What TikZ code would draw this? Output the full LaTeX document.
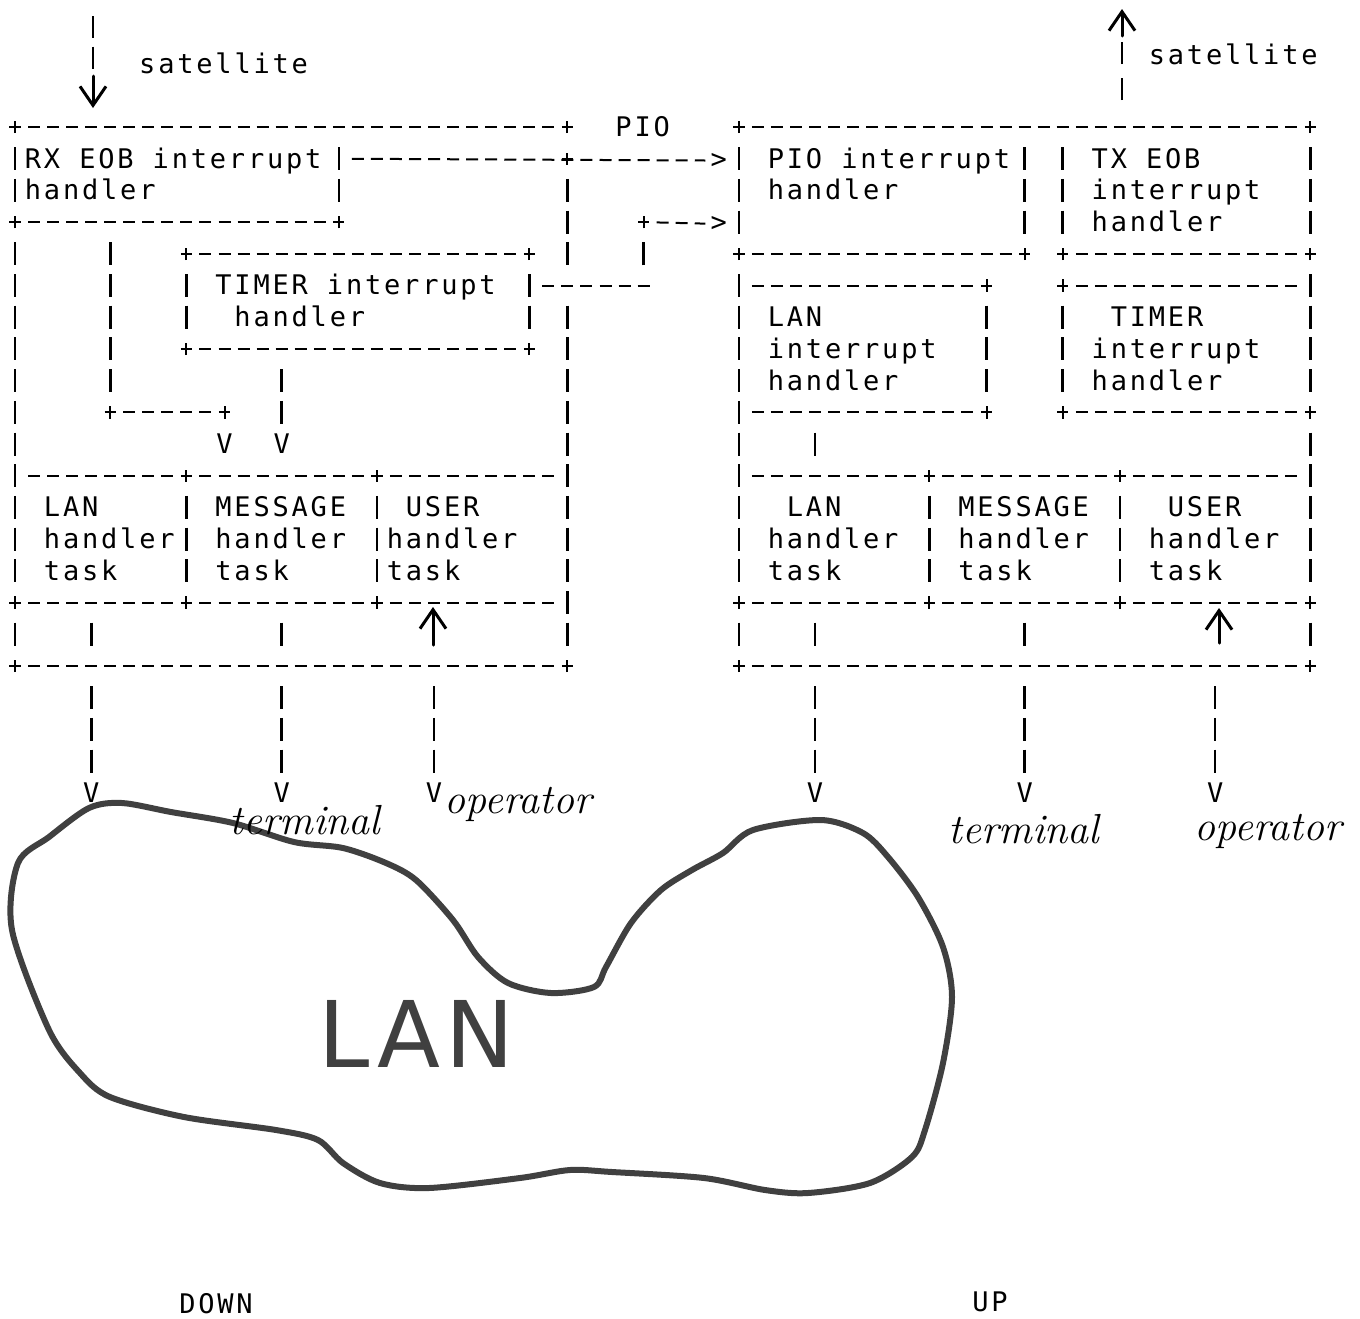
\documentclass[tikz,border=0pt]{standalone}
\usepackage{fontspec}
\newfontfamily\prt{DejaVu Sans Mono}[LetterSpace=10.4]
\newfontfamily\lanfont{DejaVu Sans}[LetterSpace=6]
\usetikzlibrary{arrows.meta,positioning,calc}

\tikzset{pls/.pic={\draw[line width=1pt] (-2.8pt,0) -- (2.8pt,0) (0,-3.1pt) -- (0,3.1pt);}}

\begin{document}
\begin{tikzpicture}[x=9.525pt,y=-15.85pt,
  every node/.style={inner sep=0pt},
  tx/.style={font=\prt\fontsize{13.5}{15.85}\selectfont,anchor=base west,xshift=-4.76pt,yshift=-4.7pt},
  vv/.style={font=\prt\fontsize{13.5}{15.85}\selectfont,anchor=base,yshift=-4.7pt},
  lbl/.style={font=\prt\fontsize{13.5}{15.85}\selectfont,anchor=base},
  hl/.style={line width=1pt,dash pattern=on 6pt off 3.525pt,shorten <=6.5pt,shorten >=6.5pt},
  vl/.style={line width=1.3pt,dash pattern=on 11.5pt off 4.35pt,shorten <=10.1pt,shorten >=10.1pt},
  tonode/.style={shorten >=2.5pt},
  hand/.style={line width=1.5pt,line cap=round,-{Straight Barb[length=9.5pt,width=13pt,line width=1.5pt]}},
  scrib/.style={font=\rmfamily\itshape\fontsize{21}{24}\selectfont,anchor=base},
  blob/.style={line width=3pt,draw=black!75,line join=round}]

% page frame in scan pixels
\begin{scope}[x=0.5pt,y=-0.5pt,shift={(-15,-127)}]
 \useasboundingbox (0,0) rectangle (1360,1318);
\end{scope}

% printed texts, (column,row) of the first letter
\foreach \n/\cc/\rr/\t in {tPio/32/0/PIO, tSatL/7/-2/satellite,
  tRx1/1/1/RX EOB interrupt, tRx2/1/2/handler,
  tTm1/11/5/TIMER interrupt, tTm2/12/6/handler,
  tLan1/2/12/LAN, tLan2/2/13/handler, tLan3/2/14/task,
  tMsg1/11/12/MESSAGE, tMsg2/11/13/handler, tMsg3/11/14/task,
  tUsr1/21/12/USER, tUsr2/20/13/handler, tUsr3/20/14/task,
  tSatR/60/-2.27/satellite,
  tPi1/40/1/PIO interrupt, tPi2/40/2/handler,
  tTx1/57/1/TX EOB, tTx2/57/2/interrupt, tTx3/57/3/handler,
  tLi1/40/6/LAN, tLi2/40/7/interrupt, tLi3/40/8/handler,
  tTi1/58/6/TIMER, tTi2/57/7/interrupt, tTi3/57/8/handler,
  tLn1/41/12/LAN, tLn2/40/13/handler, tLn3/40/14/task,
  tMs1/50/12/MESSAGE, tMs2/50/13/handler, tMs3/50/14/task,
  tUs1/61/12/USER, tUs2/60/13/handler, tUs3/60/14/task}
  \node[tx] (\n) at (\cc,\rr) {\t};
\node[tx] (gtA) at (37,1) {>};
\node[tx] (gtB) at (37,3) {>};
\foreach \n/\cc/\rr in {vLan/11/10, vMsg/14/10, vLa/4/21, vLb/14/21, vLc/22/21,
  vRa/42/21, vRb/53/21, vRc/63/21}
  \node[vv] (\n) at (\cc,\rr) {V};

% box frames
\foreach \xa/\ya/\xb/\yb in {0/0/29/0, 0/3/17/3, 9/4/27/4, 9/7/27/7,
  0/11/9/11, 9/11/19/11, 19/11/29/11, 0/15/9/15, 9/15/19/15, 19/15/29/15, 0/17/29/17,
  38/0/68/0, 38/4/53/4, 55/4/68/4, 38/5/51/5, 55/5/68/5, 38/9/51/9, 55/9/68/9,
  38/11/48/11, 48/11/58/11, 58/11/68/11, 38/15/48/15, 48/15/58/15, 58/15/68/15, 38/17/68/17}
  \draw[hl] (\xa,\ya) -- (\xb,\yb);
\foreach \xa/\ya/\xb/\yb in {0/0/0/3, 0/3/0/15, 0/15/0/17, 17/0/17/3, 29/1/29/5, 29/5/29/17,
  9/4/9/7, 27/4/27/7, 9/11/9/15, 19/11/19/15,
  38/0/38/4, 38/4/38/15, 38/15/38/17, 53/0/53/4, 55/0/55/4, 51/5/51/9, 55/5/55/9,
  68/0/68/4, 68/4/68/9, 68/9/68/15, 68/15/68/17, 48/11/48/15, 58/11/58/15}
  \draw[vl] (\xa,\ya) -- (\xb,\yb);
\foreach \xa/\ya in {0/0, 29/0, 29/1, 0/3, 17/3, 33/3, 9/4, 27/4, 9/7, 27/7, 5/9, 11/9,
  9/11, 19/11, 0/15, 9/15, 19/15, 0/17, 29/17,
  38/0, 68/0, 38/4, 53/4, 55/4, 68/4, 51/5, 55/5, 51/9, 55/9, 68/9,
  48/11, 58/11, 38/15, 48/15, 58/15, 68/15, 38/17, 68/17}
  \pic at (\xa,\ya) {pls};

% connectors
\coordinate (rxOut) at (17,1);
\coordinate (tmOut) at (27,5);
\coordinate (tmBend) at (33,5);
\coordinate (tmUp) at (33,3);
\coordinate (rxDown) at (5,3);
\coordinate (lanBend) at (5,9);
\coordinate (lanIn) at (11,9);
\coordinate (tmDown) at (14,7);
\coordinate (liDown) at (42,9);
\coordinate (lnIn) at (42,11);
\foreach \n/\cc/\rr in {lanOut/4/15, lanMid/4/17, msgOut/14/15, msgMid/14/17, usrMid/22/17,
  lnOut/42/15, lnMid/42/17, msOut/53/15, msMid/53/17, usMid/63/17}
  \coordinate (\n) at (\cc,\rr);
\draw[hl,tonode] (rxOut) -- (gtA);
\draw[hl,shorten >=-3pt] (tmOut) -- (tmBend);
\draw[vl] (tmBend) -- (tmUp);
\draw[hl,tonode] (tmUp) -- (gtB);
\draw[vl] (rxDown) -- (lanBend);
\draw[hl] (lanBend) -- (lanIn);
\draw[vl,tonode] (tmDown) -- (vMsg);
\draw[vl] (liDown) -- (lnIn);
\foreach \a/\b in {lanOut/lanMid, msgOut/msgMid, lnOut/lnMid, msOut/msMid}
  \draw[vl] (\a) -- (\b);
\foreach \a/\b in {lanMid/vLa, msgMid/vLb, usrMid/vLc, lnMid/vRa, msMid/vRb, usMid/vRc}
  \draw[vl,tonode] (\a) -- (\b);

% hand-drawn part, in scan pixels
\begin{scope}[x=0.5pt,y=-0.5pt,shift={(-15,-127)}]
 \coordinate (sLtop) at (93,16);
 \coordinate (sLmid) at (93,76);
 \coordinate (sLtip) at (93,108);
 \coordinate (sRbot) at (1122,100);
 \coordinate (sRmid) at (1122,36);
 \coordinate (sRtip) at (1122,9);
 \coordinate (uLb) at (433,645);
 \coordinate (uLt) at (433,607);
 \coordinate (uRb) at (1219,643);
 \coordinate (uRt) at (1219,608);
 \draw[line width=1.3pt,dash pattern=on 11pt off 4.35pt] (sLtop) -- (sLmid);
 \draw[hand] (sLmid) -- (sLtip);
 \draw[line width=1.3pt,dash pattern=on 11pt off 7pt] (sRbot) -- (sRmid);
 \draw[hand] (sRmid) -- (sRtip);
 \draw[hand] (uLb) -- (uLt);
 \draw[hand] (uRb) -- (uRt);

 \draw[blob] plot[smooth cycle,tension=0.5] coordinates {(89,808) (122,803) (171,812)
  (233,823) (294,842) (343,848) (386,863) (416,880) (453,920) (478,957) (508,983)
  (551,993) (594,987) (606,967) (631,923) (661,890) (692,870) (723,853) (753,830)
  (821,820) (863,833) (888,857) (918,897) (943,947) (952,997) (943,1063) (925,1130)
  (912,1157) (870,1183) (808,1193) (765,1190) (704,1178) (612,1172) (570,1170)
  (520,1178) (429,1188) (380,1183) (343,1163) (318,1140) (276,1130) (184,1117)
  (110,1097) (80,1073) (49,1030) (12,930) (18,863) (49,837)};
 \node[font=\lanfont\fontsize{46}{50}\selectfont,text=black!75,anchor=base west] (lan) at (318,1067) {LAN};

 \node[scrib] (termL) at (305,834) {terminal};
 \node[scrib] (operL) at (518,813) {operator};
 \node[scrib] (termR) at (1024,843) {terminal};
 \node[scrib] (operR) at (1268,840) {operator};

 \node[lbl] (down) at (216,1313) {DOWN};
 \node[lbl] (up) at (990,1311) {UP};
\end{scope}
\end{tikzpicture}
\end{document}
